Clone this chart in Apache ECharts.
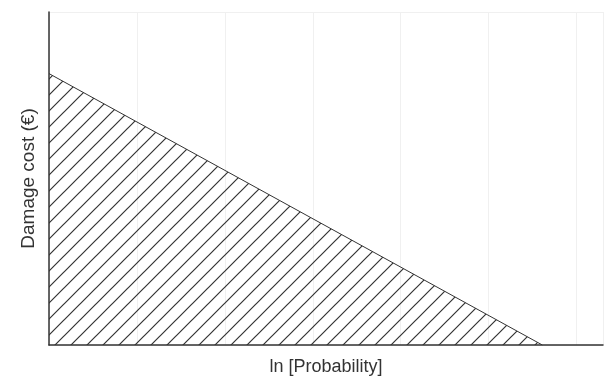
<!DOCTYPE html>
<html>
<head>
<meta charset="utf-8">
<script src="https://cdn.jsdelivr.net/npm/echarts@6/dist/echarts.min.js"></script>
<style>html,body{margin:0;padding:0;background:#fff;}#c{width:605px;height:381px;}</style>
</head>
<body>
<div id="c"></div>
<script>
const xValues = [0, 5.61];
const yValues = [0.815, 0];
const xAxisTitle = 'ln [Probability]';
const yAxisTitle = 'Damage cost (€)';

function hatch() {
  const s = 16;
  const cv = document.createElement('canvas');
  cv.width = s; cv.height = s;
  const ctx = cv.getContext('2d');
  ctx.strokeStyle = '#333';
  ctx.lineWidth = 1.2;
  ctx.beginPath();
  ctx.moveTo(-2, s + 2); ctx.lineTo(s + 2, -2);
  ctx.moveTo(-2, 2); ctx.lineTo(2, -2);
  ctx.moveTo(s - 2, s + 2); ctx.lineTo(s + 2, s - 2);
  ctx.stroke();
  return cv;
}

const chart = echarts.init(document.getElementById('c'));
chart.setOption({
  animation: false,
  grid: { left: 49, right: 2, top: 12, bottom: 34 },
  xAxis: {
    type: 'value', min: 0, max: 6.3, interval: 1,
    name: xAxisTitle, nameLocation: 'middle', nameGap: 13,
    nameTextStyle: { fontFamily: 'Liberation Sans', fontSize: 18, color: '#333' },
    axisLine: { lineStyle: { color: '#333', width: 1.5 } },
    axisTick: { show: false }, axisLabel: { show: false },
    splitLine: { show: true, lineStyle: { color: '#f0f0f0', width: 1 } }
  },
  yAxis: {
    type: 'value', min: 0, max: 1, interval: 1,
    name: yAxisTitle, nameLocation: 'middle', nameGap: 11,
    nameTextStyle: { fontFamily: 'Liberation Sans', fontSize: 19, color: '#333' },
    axisLine: { show: true, lineStyle: { color: '#333', width: 1.5 } },
    axisTick: { show: false }, axisLabel: { show: false },
    splitLine: { show: true, lineStyle: { color: '#f0f0f0', width: 1 } }
  },
  series: [{
    type: 'line',
    data: xValues.map((x, i) => [x, yValues[i]]),
    showSymbol: false,
    lineStyle: { color: '#333', width: 1 },
    areaStyle: { color: { image: hatch(), repeat: 'repeat' }, opacity: 1 }
  }]
});
</script>
</body>
</html>
